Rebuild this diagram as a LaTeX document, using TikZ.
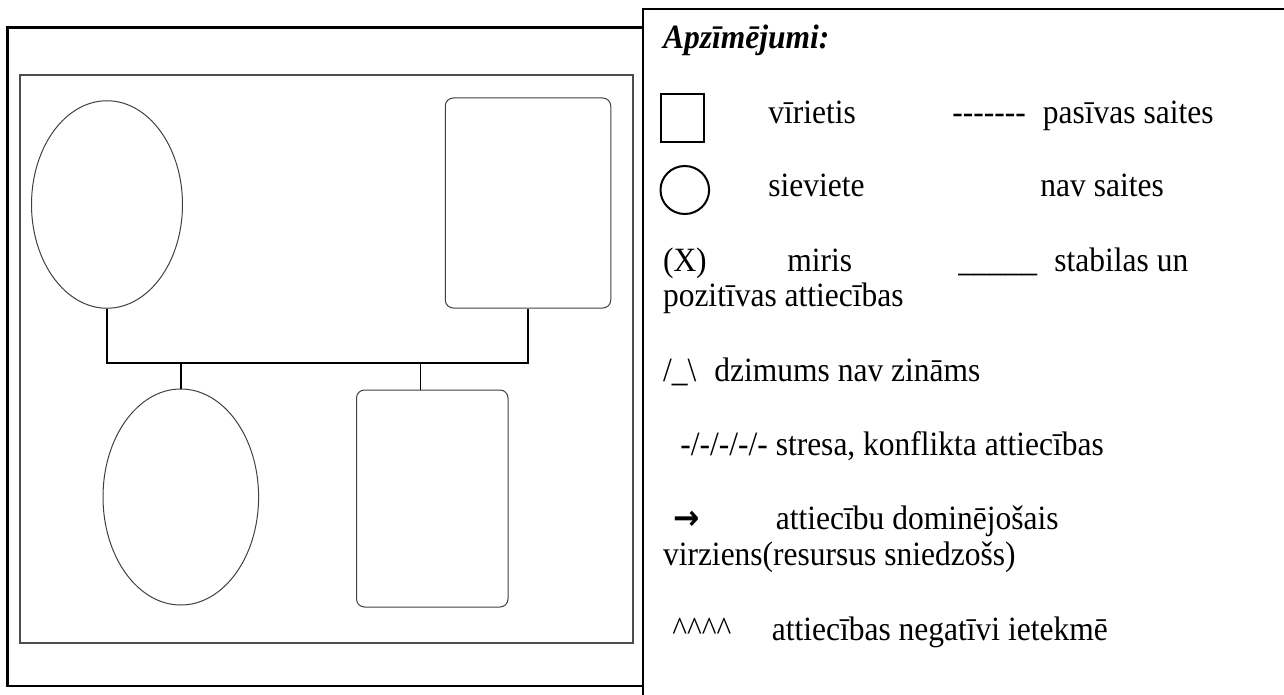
\documentclass[tikz,border=0pt]{standalone}
\usepackage{fontspec}
\setmainfont{Liberation Serif}
\newfontfamily\arrowfont{DejaVu Sans}
\usetikzlibrary{shapes.geometric}
\newcommand\legsize{\fontsize{15.75}{18}\selectfont}
\tikzset{
  fem/.style={draw=black!75, ellipse, inner sep=0pt, line width=0.5pt},
  male/.style={draw=black!75, rectangle, rounded corners=4pt, inner sep=0pt, line width=0.5pt},
  link/.style={line width=0.7pt},
  legtext/.style={anchor=base west, inner sep=0pt, font=\legsize, yscale=1.08, transform shape},
}

\begin{document}
\begin{tikzpicture}[x=0.5pt,y=-0.5pt]
		%%%%% FRAME %%%%%
		\useasboundingbox (0,0) rectangle (1284,695);
		\draw[line width=1.25pt] (7.5,27.5) rectangle (643,686);
		\draw[line width=0.75pt, color=black!70] (20,75) rectangle (633,643);
		
		%%%%% FAMILY %%%%%
		\node[fem, minimum width=75.5pt, minimum height=103.75pt] (mother) at (107,204.5) {};
		\node[male, minimum width=82.75pt, minimum height=105pt] (father) at (528,203) {};
		\node[fem, minimum width=77.8pt, minimum height=108pt] (daughter) at (180.8,497) {};
		\node[male, minimum width=75.75pt, minimum height=108.5pt] (son) at (432.25,498.5) {};
		
		\coordinate (bar) at (300,363);
		\coordinate (sontop) at (420.7,390);
		\draw[link] (mother.south) |- (bar) -| (father.south);
		\draw[link] (daughter.north) -- (daughter.north |- bar);
		\draw[link] (sontop) -- (sontop |- bar);
		
		%%%%% LEGEND %%%%%
		\draw[line width=0.75pt] (1284,9) -- (643,9) -- (643,695);
		\node[legtext, font=\legsize\bfseries\itshape] (title) at (662.6,48.7) {Apzīmējumi:};
		
		\draw[line width=1pt] (660.5,94) rectangle (703.7,141.8);
		\node[legtext] (male) at (768,124) {vīrietis};
		\node[legtext] (passdash) at (952,124) {-{}-{}-{}-{}-{}-{}-};
		\node[legtext] (pass) at (1042.5,124) {pasīvas saites};
		
		\draw[line width=1pt] (684.8,190) ellipse [x radius=24.3, y radius=24];
		\node[legtext] (female) at (768,197) {sieviete};
		\node[legtext] (nolink) at (1040,197) {nav saites};
		
		\node[legtext] (deadmark) at (662.6,271) {(X)};
		\node[legtext] (dead) at (787,271) {miris};
		\node[legtext] (stableline) at (958,271) {\_\_\_\_\_};
		\node[legtext] (stable) at (1054,271) {stabilas un};
		\node[legtext] (stable2) at (662.6,306.7) {pozitīvas attiecības};
		
		\node[legtext] (unkmark) at (662.6,381) {/\_\textbackslash};
		\node[legtext] (unk) at (714,381) {dzimums nav zināms};
		
		\node[legtext] (stress) at (680,455.6) {-/-/-/-/- stresa, konflikta attiecības};
		
		\node[legtext, font=\legsize\arrowfont\bfseries] (dommark) at (673,529.6) {→};
		\node[legtext] (dom) at (775.5,529.6) {attiecību dominējošais};
		\node[legtext] (dom2) at (662.6,565) {virziens(resursus sniedzošs)};
		
		\node[legtext] (negmark) at (672,640) {\textasciicircum\textasciicircum\textasciicircum\textasciicircum};
		\node[legtext] (neg) at (771.4,640) {attiecības negatīvi ietekmē};
\end{tikzpicture}
\end{document}
